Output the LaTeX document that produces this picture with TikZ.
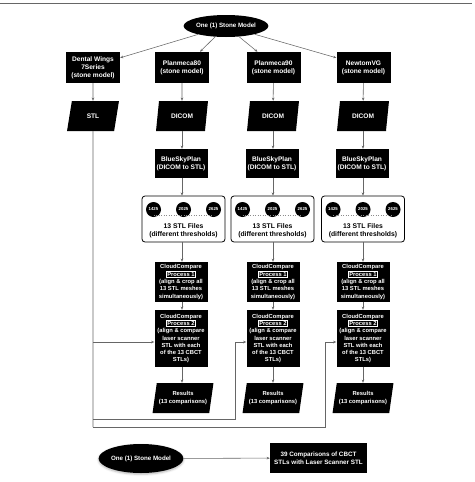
\documentclass[tikz,border=0pt]{standalone}
\usepackage{fontspec}
\setmainfont{Liberation Sans}
\usetikzlibrary{shapes.geometric,arrows.meta,shadows.blur}
\newcommand\procbox[1]{{\setlength\fboxsep{0.6pt}\setlength\fboxrule{0.35pt}\fcolorbox{white}{black}{#1}}}
\begin{document}
\begin{tikzpicture}[x=1pt,y=-1pt,
  conn/.style={draw=black!60, line width=0.55pt},
  arr/.style={conn, -{Stealth[length=3.2pt,width=2.6pt]}},
  box/.style={fill=black, text=white, font=\bfseries\fontsize{6.6}{8}\selectfont, align=center, inner sep=0pt, minimum width=54pt, minimum height=31pt},
  bsp/.style={box, minimum width=53pt, minimum height=29pt},
  cc/.style={fill=black, text=white, font=\bfseries\fontsize{5.8}{7.3}\selectfont, align=center, inner sep=0pt, minimum width=53pt},
  para/.style={trapezium, trapezium left angle=73, trapezium right angle=107, trapezium stretches=true, fill=black, text=white, font=\bfseries\fontsize{6.6}{8}\selectfont, align=center, inner sep=0pt, minimum width=52pt, minimum height=30pt},
  respara/.style={para, font=\bfseries\fontsize{5.8}{7.3}\selectfont, minimum width=61pt},
  oval/.style={ellipse, fill=black, text=white, font=\bfseries\fontsize{6.2}{7.5}\selectfont, inner sep=0pt},
  files/.style={draw=black, line width=0.8pt, rounded corners=3pt, minimum width=83pt, minimum height=46pt, inner sep=0pt},
  thr/.style={circle, fill=black, text=white, font=\bfseries\fontsize{4.3}{5}\selectfont, inner sep=0pt, minimum size=15pt},
  ftext/.style={font=\bfseries\fontsize{6.8}{8}\selectfont, align=center, inner sep=0pt},
  dots/.style={draw=black!45, line width=0.5pt, dotted}
]
\useasboundingbox (0,0) rectangle (474,482);
\draw[draw=black!60, line width=0.8pt] (0,3.5) -- (472,3.5);

% top
\node[oval, minimum width=76pt, minimum height=22pt] (top) at (226,26) {One (1) Stone Model};

% row 1
\node[box] (dw)  at (93,67.5)   {Dental Wings\\7Series\\(stone model)};
\node[box] (p80) at (182,67.5)  {Planmeca80\\(stone model)};
\node[box] (p90) at (273.5,67.5){Planmeca90\\(stone model)};
\node[box] (nvg) at (363.5,67.5){NewtomVG\\(stone model)};

% row 2
\node[para] (stl) at (93,116)  {STL};
\node[para] (d80) at (182,116) {DICOM};
\node[para] (d90) at (273,116) {DICOM};
\node[para] (dnv) at (363,116) {DICOM};

% BlueSkyPlan
\node[bsp] (b80) at (181,163.5) {BlueSkyPlan\\(DICOM to STL)};
\node[bsp] (b90) at (272,163.5) {BlueSkyPlan\\(DICOM to STL)};
\node[bsp] (bnv) at (362,163.5) {BlueSkyPlan\\(DICOM to STL)};

% STL file boxes
\foreach \n/\cx in {f80/183.5, f90/272.5, fnv/363}{
  \node[files] (\n) at (\cx,219) {};
  \node[thr] (\n a) at (\cx-30,209.5) {1425};
  \node[thr] (\n b) at (\cx,209.5) {2025};
  \node[thr] (\n c) at (\cx+30,209.5) {2625};
  \draw[dots] ([yshift=-5.5pt]\n a.center) -- ([yshift=-5.5pt]\n c.center);
  \node[ftext] (\n t) at (\cx,231) {13 STL Files\\(different thresholds)};
}

% CloudCompare process 1
\foreach \n/\cx in {a80/181, a90/273, anv/363}{
  \node[cc, minimum height=40pt] (\n) at (\cx,282) {CloudCompare\\\procbox{Process 1}\\(align \& crop all\\13 STL meshes\\simultaneously)};
}
% CloudCompare process 2
\foreach \n/\cx in {q80/181, q90/273, qnv/363}{
  \node[cc, minimum height=57pt] (\n) at (\cx,338.5) {CloudCompare\\\procbox{Process 2}\\(align \& compare\\laser scanner\\STL with each\\of the 13 CBCT\\STLs)};
}
% results
\node[respara] (r80) at (183,398) {Results\\(13 comparisons)};
\node[respara] (r90) at (273,398) {Results\\(13 comparisons)};
\node[respara] (rnv) at (363,398) {Results\\(13 comparisons)};

% bottom legend
\node[oval, minimum width=75pt, minimum height=29pt, blur shadow={shadow xshift=0pt, shadow yshift=-1.2pt, shadow blur steps=4, shadow opacity=30}] (ell) at (141,458.5) {One (1) Stone Model};
\node[box, minimum width=97pt, minimum height=30pt, font=\bfseries\fontsize{6.3}{8}\selectfont] (sum) at (318.5,458) {39 Comparisons of CBCT\\STLs with Laser Scanner STL};

% connectors
\draw[arr] (top) -- ([yshift=-6pt]dw.north east);
\draw[arr] (top) -- ([xshift=18pt]p80.north);
\draw[arr] (top) -- ([xshift=-16pt]p90.north);
\draw[arr] (top) -- ([yshift=-6pt]nvg.north west);

\draw[arr] (dw) -- (stl);
\draw[arr] (p80) -- (d80);
\draw[arr] (p90) -- (d90);
\draw[arr] (nvg) -- (dnv);

\draw[arr] (d80.south) -- (b80.north -| d80.south);
\draw[arr] (d90.south) -- (b90.north -| d90.south);
\draw[arr] (dnv.south) -- (bnv.north -| dnv.south);

\draw[arr] (b80.south -| d80.south) -- (f80.north -| d80.south);
\draw[arr] (b90.south -| d90.south) -- (f90.north -| d90.south);
\draw[arr] (bnv.south -| dnv.south) -- (fnv.north -| dnv.south);

\draw[arr] (f80.south -| d80.south) -- (a80.north -| d80.south);
\draw[arr] (f90.south -| d90.south) -- (a90.north -| d90.south);
\draw[arr] (fnv.south -| dnv.south) -- (anv.north -| dnv.south);

\draw[arr] (a80.south -| d80.south) -- (q80.north -| d80.south);
\draw[arr] (a90.south -| d90.south) -- (q90.north -| d90.south);
\draw[arr] (anv.south -| dnv.south) -- (qnv.north -| dnv.south);

\draw[arr] (q80.south -| d80.south) -- (r80.north -| d80.south);
\draw[arr] (q90.south -| d90.south) -- (r90.north -| d90.south);
\draw[arr] (qnv.south -| dnv.south) -- (rnv.north -| dnv.south);

% laser scanner STL feeds
\coordinate (j1) at (93,342);
\coordinate (j2) at (93,419);
\coordinate (j3) at (93,427);
\coordinate (k2) at (235,419);
\coordinate (k3) at (325,427);
\draw[conn] (stl.south) -- (j3);
\draw[arr] (j1) -- (j1 -| q80.west);
\draw[arr] (j2) -- (k2) -- (k2 |- j1) -- (j1 -| q90.west);
\draw[arr] (j3) -- (k3) -- (k3 |- j1) -- (j1 -| qnv.west);

\draw[arr] (ell) -- (sum);
\end{tikzpicture}
\end{document}
